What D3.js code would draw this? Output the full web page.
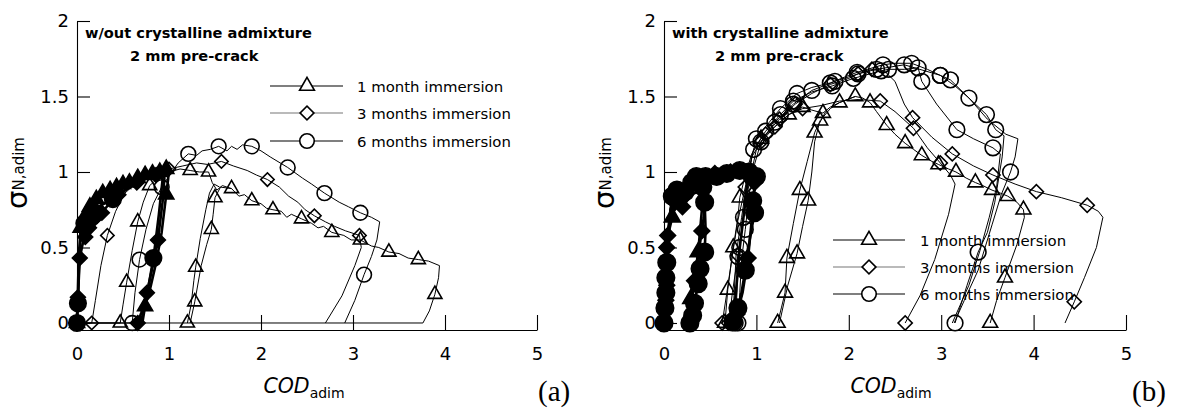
<!DOCTYPE html>
<html><head><meta charset="utf-8">
<script src="https://cdn.jsdelivr.net/npm/d3@7"></script>
<style>body{margin:0;background:#fff} svg{display:block}</style>
</head><body>
<svg id="c" width="1177" height="410"></svg>
<script>
// ---------- DATA ----------
const xTicks = [0, 1, 2, 3, 4, 5];
const yTicks = [0, 0.5, 1, 1.5, 2];
const legendLabels = ["1 month immersion", "3 months immersion", "6 months immersion"];
const titleA = ["w/out crystalline admixture", "2 mm pre-crack"];
const titleB = ["with crystalline admixture", "2 mm pre-crack"];

// each point: [COD_adim, sigma_N,adim, marker?]
// panel (a) pre-crack (filled)
const aFillTri = [[0,0,1],[0.01,0.22,0],[0.02,0.45,0],[0.04,0.63,1],[0.09,0.71,1],[0.14,0.77,1],[0.21,0.82,1],[0.28,0.86,1],[0.36,0.88,1],[0.43,0.9,1],[0.5,0.92,1],[0.57,0.93,1],[0.66,0.96,1],[0.74,0.98,1],[0.82,0.99,1],[0.9,1.0,1],[0.97,1.02,1],[1.0,1.02,0],[0.99,0.95,0],[0.97,0.85,1],[0.92,0.6,0],[0.86,0.4,0],[0.8,0.24,0],[0.74,0.11,1],[0.71,0.0,0]];
const aFillDia = [[0,0,1],[0.005,0.08,0],[0.01,0.17,1],[0.02,0.3,0],[0.03,0.43,1],[0.06,0.52,0],[0.09,0.57,1],[0.13,0.63,1],[0.17,0.68,1],[0.22,0.71,1],[0.27,0.73,1],[0.35,0.79,0],[0.45,0.85,1],[0.55,0.89,0],[0.65,0.93,1],[0.75,0.96,0],[0.86,0.98,1],[0.93,0.99,0],[0.95,0.96,0],[0.93,0.8,0],[0.88,0.55,1],[0.82,0.37,0],[0.76,0.2,1],[0.7,0.07,0],[0.66,0.0,1]];
const aFillCir = [[0,0,1],[0,0.06,0],[0.01,0.13,1],[0.02,0.35,0],[0.04,0.57,0],[0.08,0.66,1],[0.17,0.74,1],[0.26,0.78,0],[0.39,0.82,1],[0.5,0.87,0],[0.6,0.91,0],[0.7,0.94,0],[0.8,0.97,0],[0.9,0.99,0],[0.93,0.95,0],[0.89,0.72,0],[0.85,0.52,0],[0.83,0.43,1],[0.78,0.25,0],[0.73,0.09,0],[0.69,0.0,0]];
// panel (a) after immersion (open)
const aTri1 = [[0,0,0],[0.47,0,1],[0.5,0.12,0],[0.54,0.27,1],[0.6,0.48,0],[0.66,0.67,1],[0.72,0.8,0],[0.79,0.91,1],[0.9,0.97,0],[1.0,1.0,0],[1.12,1.02,0],[1.23,1.01,1],[1.33,1.0,0],[1.43,1.0,1],[1.47,0.93,0],[1.52,0.88,0],[1.58,0.91,0],[1.68,0.89,1],[1.76,0.84,0],[1.82,0.85,0],[1.9,0.81,1],[2.0,0.79,0],[2.06,0.76,0],[2.13,0.75,1],[2.22,0.74,0],[2.28,0.7,0],[2.33,0.72,0],[2.44,0.69,1],[2.55,0.66,0],[2.62,0.63,0],[2.68,0.64,0],[2.77,0.6,1],[2.9,0.58,0],[2.98,0.55,0],[3.08,0.55,1],[3.2,0.51,0],[3.28,0.5,0],[3.39,0.47,1],[3.5,0.46,0],[3.6,0.43,0],[3.71,0.42,1],[3.82,0.41,0],[3.94,0.38,0],[3.93,0.3,0],[3.89,0.19,1],[3.83,0.08,0],[3.76,0,0],[0,0,0]];
const aTri2 = [[1.2,0,1],[1.24,0.12,0],[1.27,0.28,0],[1.29,0.37,1],[1.34,0.56,0],[1.4,0.75,0],[1.44,0.86,0],[1.49,0.92,0],[1.55,0.9,0]];
const aTri3 = [[1.23,0,0],[1.28,0.14,1],[1.35,0.38,0],[1.41,0.52,0],[1.46,0.62,1],[1.48,0.72,0],[1.5,0.83,1],[1.56,0.9,0],[1.68,0.89,0]];
const aDia = [[0,0,0],[0.16,0,1],[0.2,0.15,0],[0.26,0.38,0],[0.33,0.58,1],[0.42,0.74,0],[0.52,0.86,0],[0.65,0.93,0],[0.8,0.97,0],[1.0,1.02,1],[1.15,1.04,0],[1.3,1.06,0],[1.42,1.05,0],[1.57,1.07,1],[1.7,1.04,0],[1.85,1.01,0],[1.95,0.98,0],[2.07,0.95,1],[2.2,0.9,0],[2.3,0.84,0],[2.4,0.8,0],[2.48,0.75,0],[2.58,0.71,1],[2.7,0.67,0],[2.8,0.64,0],[2.92,0.61,0],[3.07,0.58,1],[3.09,0.5,0],[3.02,0.38,0],[2.88,0.18,0],[2.7,0,0]];
const aCir = [[0,0,0],[0.6,0,1],[0.63,0.2,0],[0.68,0.42,1],[0.75,0.62,0],[0.83,0.79,0],[0.92,0.9,1],[1.02,0.99,0],[1.1,1.06,0],[1.21,1.12,1],[1.3,1.11,0],[1.36,1.14,0],[1.45,1.15,0],[1.54,1.17,1],[1.63,1.14,0],[1.68,1.17,0],[1.74,1.15,0],[1.8,1.18,0],[1.9,1.17,1],[2.0,1.14,0],[2.1,1.1,0],[2.29,1.03,1],[2.45,0.96,0],[2.55,0.92,0],[2.69,0.86,1],[2.85,0.8,0],[2.95,0.77,0],[3.08,0.73,1],[3.2,0.7,0],[3.29,0.67,0],[3.26,0.55,0],[3.2,0.44,0],[3.12,0.32,1],[3.02,0.15,0],[2.91,0,0]];

// panel (b) pre-crack (filled)
const bFillCirA = [[0,0,1],[0.01,0.1,1],[0.02,0.2,1],[0.02,0.3,1],[0.03,0.4,1],[0.04,0.55,0],[0.06,0.7,0],[0.09,0.84,1],[0.14,0.88,1],[0.23,0.87,1],[0.3,0.93,1],[0.35,0.97,1],[0.42,0.9,1],[0.44,0.8,1],[0.45,0.62,0],[0.44,0.47,1],[0.39,0.36,1],[0.37,0.26,1],[0.33,0.13,1],[0.31,0.05,1],[0.28,0,1]];
const bFillTriA = [[0,0,0],[0.02,0.3,0],[0.05,0.6,0],[0.09,0.7,1],[0.14,0.82,0],[0.25,0.88,0],[0.35,0.92,0],[0.42,0.88,0],[0.41,0.75,0],[0.37,0.47,1],[0.33,0.3,0],[0.29,0.16,1],[0.28,0.1,0],[0.26,0,0]];
const bFillDiaA = [[0,0,1],[0.02,0.15,1],[0.03,0.25,1],[0.03,0.38,0],[0.03,0.5,1],[0.04,0.58,1],[0.07,0.7,0],[0.12,0.8,1],[0.2,0.77,1],[0.3,0.85,0],[0.4,0.88,0],[0.45,0.85,0],[0.43,0.7,0],[0.41,0.61,1],[0.37,0.45,0],[0.33,0.28,1],[0.29,0.1,0],[0.27,0,0]];
const bFillCirB = [[0,0,0],[0.02,0.25,0],[0.04,0.55,0],[0.08,0.78,0],[0.14,0.88,0],[0.25,0.92,0],[0.35,0.96,0],[0.45,0.97,1],[0.57,0.97,1],[0.68,0.99,1],[0.82,1.01,1],[0.92,1.0,1],[1.0,0.97,1],[0.98,0.88,0],[0.96,0.81,1],[0.98,0.73,1],[0.93,0.56,0],[0.88,0.35,1],[0.83,0.17,0],[0.8,0.1,1],[0.75,0.01,1]];
const bFillDiaB = [[0,0,0],[0.03,0.45,0],[0.08,0.78,0],[0.2,0.9,0],[0.4,0.96,1],[0.55,0.99,1],[0.72,1.0,1],[0.9,0.99,1],[0.98,0.93,1],[0.96,0.75,0],[0.91,0.43,1],[0.85,0.2,0],[0.79,0.06,1],[0.74,0,0]];
const bFillTriB = [[0,0,0],[0.03,0.5,0],[0.07,0.75,0],[0.2,0.88,0],[0.45,0.95,0],[0.7,0.98,0],[0.85,0.98,0],[0.9,0.92,0],[0.87,0.75,0],[0.82,0.5,0],[0.8,0.35,0],[0.77,0.15,0],[0.73,0,1]];
// panel (b) after immersion (open)
const bTri1 = [[0.66,0,1],[0.69,0.22,1],[0.75,0.5,1],[0.8,0.7,0],[0.82,0.83,1],[0.88,0.98,0],[0.95,1.12,0],[1.05,1.22,1],[1.2,1.3,0],[1.35,1.38,1],[1.5,1.43,1],[1.6,1.41,0],[1.72,1.39,1],[1.8,1.43,0],[1.9,1.46,1],[2.07,1.5,1],[2.15,1.49,0],[2.23,1.46,1],[2.3,1.4,0],[2.41,1.31,1],[2.5,1.25,0],[2.61,1.19,1],[2.7,1.15,0],[2.79,1.11,1],[2.9,1.07,0],[2.97,1.05,1],[3.08,1.02,0],[3.16,1.0,1],[3.27,0.96,0],[3.37,0.93,1],[3.45,0.91,0],[3.55,0.88,1],[3.64,0.86,0],[3.72,0.84,1],[3.82,0.8,0],[3.89,0.75,1],[3.9,0.7,0],[3.82,0.52,0],[3.69,0.3,1],[3.6,0.15,0],[3.53,0,1]];
const bTri2 = [[1.23,0,1],[1.27,0.1,0],[1.31,0.2,1],[1.33,0.43,1],[1.4,0.66,0],[1.47,0.88,1],[1.55,1.07,0],[1.63,1.26,1],[1.69,1.34,1],[1.8,1.42,0],[1.9,1.46,0],[2.07,1.5,0]];
const bTri3 = [[1.25,0,0],[1.34,0.25,0],[1.44,0.46,1],[1.5,0.64,0],[1.56,0.81,1],[1.6,1.0,0],[1.63,1.2,0],[1.68,1.32,0],[1.75,1.4,0]];
const bDiaLow = [[0.63,0,1],[0.68,0.2,0],[0.74,0.45,0],[0.8,0.68,0],[0.88,0.9,1],[0.95,1.1,0],[1.05,1.2,1],[1.2,1.3,1],[1.35,1.38,0],[1.5,1.42,1],[1.7,1.44,0],[1.9,1.47,0],[2.1,1.48,0],[2.34,1.47,1],[2.5,1.4,0],[2.7,1.29,1],[2.85,1.16,0],[2.99,1.06,1],[3.1,0.98,0],[3.15,0.92,0],[3.08,0.72,0],[2.93,0.42,0],[2.77,0.18,0],[2.61,0,1]];
const bDiaHigh = [[0.7,0,1],[0.74,0.2,0],[0.8,0.45,1],[0.86,0.7,0],[0.92,0.92,0],[1.0,1.15,0],[1.1,1.25,1],[1.25,1.35,1],[1.42,1.45,1],[1.6,1.52,0],[1.8,1.58,1],[2.0,1.62,0],[2.1,1.65,1],[2.25,1.68,1],[2.4,1.66,0],[2.5,1.6,0],[2.6,1.45,0],[2.69,1.36,1],[2.9,1.23,0],[3.12,1.12,1],[3.35,1.04,0],[3.56,0.98,1],[3.8,0.92,0],[4.03,0.87,1],[4.3,0.83,0],[4.58,0.78,1],[4.7,0.74,0],[4.75,0.7,0],[4.68,0.5,0],[4.55,0.3,0],[4.44,0.14,1],[4.34,0,0]];
const bCirA = [[0.77,0,1],[0.79,0.2,0],[0.8,0.44,1],[0.82,0.5,1],[0.86,0.7,1],[0.9,0.9,0],[0.95,1.1,0],[1.0,1.22,1],[1.1,1.3,0],[1.26,1.42,1],[1.44,1.52,1],[1.6,1.56,0],[1.8,1.59,1],[2.0,1.64,0],[2.09,1.66,1],[2.37,1.71,1],[2.5,1.72,0],[2.68,1.72,1],[2.85,1.68,0],[2.99,1.64,1],[3.15,1.57,0],[3.3,1.49,1],[3.49,1.38,1],[3.59,1.28,1],[3.68,1.24,0],[3.66,1.1,0],[3.58,0.8,0],[3.5,0.6,0],[3.4,0.47,1],[3.28,0.25,0],[3.15,0,1]];
const bCirB = [[0.74,0,1],[0.76,0.2,0],[0.78,0.45,0],[0.84,0.7,0],[0.9,0.95,0],[0.97,1.15,1],[1.1,1.27,1],[1.26,1.38,1],[1.4,1.47,1],[1.6,1.53,0],[1.82,1.57,1],[2.05,1.62,1],[2.35,1.67,1],[2.43,1.68,1],[2.6,1.68,0],[2.75,1.69,1],[2.79,1.6,1],[2.95,1.45,0],[3.17,1.28,1],[3.35,1.22,0],[3.56,1.16,1],[3.64,1.12,0],[3.6,0.9,0],[3.52,0.7,0],[3.42,0.48,0],[3.3,0.25,0],[3.12,0,0]];
const bCirC = [[0.8,0,1],[0.82,0.2,0],[0.84,0.42,0],[0.88,0.62,1],[0.92,0.85,0],[0.98,1.05,0],[1.05,1.2,1],[1.2,1.33,1],[1.4,1.45,1],[1.6,1.54,1],[1.85,1.6,1],[2.1,1.65,1],[2.3,1.68,1],[2.6,1.71,1],[2.99,1.64,1],[3.1,1.61,1],[3.3,1.49,0],[3.5,1.35,0],[3.7,1.25,0],[3.83,1.22,0],[3.8,1.1,0],[3.75,1.0,1],[3.65,0.85,0],[3.55,0.65,0],[3.4,0.35,0],[3.25,0.15,0],[3.14,0,0]];

// ---------- SERIES TABLE ----------
const seriesA = [
  {d: aFillCir, s: 'cir', f: true}, {d: aFillDia, s: 'dia', f: true}, {d: aFillTri, s: 'tri', f: true},
  {d: aDia, s: 'dia', f: false}, {d: aCir, s: 'cir', f: false},
  {d: aTri1, s: 'tri', f: false}, {d: aTri2, s: 'tri', f: false}, {d: aTri3, s: 'tri', f: false}
];
const seriesB = [
  {d: bFillCirB, s: 'cir', f: true}, {d: bFillDiaB, s: 'dia', f: true}, {d: bFillTriB, s: 'tri', f: true},
  {d: bFillCirA, s: 'cir', f: true}, {d: bFillDiaA, s: 'dia', f: true}, {d: bFillTriA, s: 'tri', f: true},
  {d: bDiaLow, s: 'dia', f: false}, {d: bDiaHigh, s: 'dia', f: false},
  {d: bCirA, s: 'cir', f: false}, {d: bCirB, s: 'cir', f: false}, {d: bCirC, s: 'cir', f: false},
  {d: bTri1, s: 'tri', f: false}, {d: bTri2, s: 'tri', f: false}, {d: bTri3, s: 'tri', f: false}
];
const legendSyms = ['tri', 'dia', 'cir'];

// ---------- LAYOUT ----------
const panels = [
  {series: seriesA, title: titleA, x0: 77, x1: 537, t1x: 85, t2x: 130, legX0: 270, legX1: 343, legM: 307, legT: 357,
   legY: [86, 113, 141], ylab: 27, tag: '(a)', tagX: 538, xlabC: 304, sz: 1.0},
  {series: seriesB, title: titleB, x0: 664, x1: 1126, t1x: 672, t2x: 715, legX0: 833, legX1: 905, legM: 869, legT: 920,
   legY: [240, 267, 294], ylab: 614, tag: '(b)', tagX: 1132, xlabC: 891, sz: 1.12}
];

const svg = d3.select('#c');
const y = d3.scaleLinear().domain([-0.0464, 2]).range([330, 21]);
const FONT = "'DejaVu Sans', Verdana, sans-serif";

function symPath(s, size) {
  const t = s === 'tri' ? d3.symbolTriangle : s === 'dia' ? d3.symbolSquare : d3.symbolCircle;
  return d3.symbol().type(t).size(size)();
}
function baseSize(s, filled, k) {
  const b = s === 'tri' ? (filled ? 100 : 86) : s === 'dia' ? (filled ? 110 : 90) : (filled ? 215 : 172);
  return b * k;
}

panels.forEach(p => {
  const x = d3.scaleLinear().domain([0, 5]).range([p.x0, p.x1]);
  const g = svg.append('g');

  // axes
  const ya = g.append('g').attr('transform', `translate(${p.x0},0)`)
    .call(d3.axisLeft(y).tickValues(yTicks).tickSize(-13).tickSizeOuter(0).tickPadding(8).tickFormat(d => String(d)));
  const xa = g.append('g').attr('transform', `translate(0,330)`)
    .call(d3.axisBottom(x).tickValues(xTicks).tickSize(-15).tickSizeOuter(0).tickPadding(17).tickFormat(d => String(d)));
  [ya, xa].forEach(a => {
    a.selectAll('path,line').attr('stroke', '#000').attr('stroke-width', 1.1);
    a.selectAll('text').attr('font-family', FONT).attr('font-size', 18).attr('fill', '#000');
  });

  // curves
  const line = d3.line().x(d => x(d[0])).y(d => y(d[1]));
  p.series.forEach(sr => {
    g.append('path').attr('d', line(sr.d)).attr('fill', 'none').attr('stroke', '#000')
      .attr('stroke-width', sr.f ? 2.6 : 1).attr('stroke-linejoin', 'round');
    const size = baseSize(sr.s, sr.f, p.sz);
    g.selectAll(null).data(sr.d.filter(d => d[2] === 1)).enter().append('path')
      .attr('d', symPath(sr.s, size))
      .attr('transform', d => `translate(${x(d[0])},${y(d[1])})` + (sr.s === 'dia' ? ' rotate(45)' : ''))
      .attr('fill', sr.f ? '#000' : 'none')
      .attr('stroke', '#000').attr('stroke-width', 1.6);
  });

  // titles
  g.append('text').attr('x', p.t1x).attr('y', 38).text(p.title[0])
    .attr('font-family', FONT).attr('font-weight', 'bold').attr('font-size', 14.6);
  g.append('text').attr('x', p.t2x).attr('y', 61).text(p.title[1])
    .attr('font-family', FONT).attr('font-weight', 'bold').attr('font-size', 14.6);

  // legend
  legendLabels.forEach((lab, i) => {
    const ly = p.legY[i];
    g.append('line').attr('x1', p.legX0).attr('x2', p.legX1).attr('y1', ly).attr('y2', ly)
      .attr('stroke', i === 1 ? '#777' : '#000').attr('stroke-width', 1.1);
    const s = legendSyms[i];
    const size = s === 'tri' ? 95 : s === 'dia' ? 95 : 165;
    g.append('path').attr('d', symPath(s, size))
      .attr('transform', `translate(${p.legM},${ly})` + (s === 'dia' ? ' rotate(45)' : ''))
      .attr('fill', '#fff').attr('stroke', '#000').attr('stroke-width', 1.6);
    g.append('text').attr('x', p.legT).attr('y', ly + 6).text(lab)
      .attr('font-family', FONT).attr('font-size', 14.9);
  });

  // axis titles
  const xt = g.append('text').attr('x', p.xlabC).attr('y', 393).attr('text-anchor', 'middle')
    .attr('font-family', FONT).attr('fill', '#000');
  xt.append('tspan').text('COD').attr('font-size', 20.5).attr('font-style', 'italic');
  xt.append('tspan').text('adim').attr('font-size', 14).attr('dy', 5);

  const yt = g.append('text').attr('transform', `translate(${p.ylab},173) rotate(-90)`)
    .attr('text-anchor', 'middle').attr('font-family', FONT).attr('fill', '#000');
  yt.append('tspan').text('σ').attr('font-size', 29);
  yt.append('tspan').text('N,adim').attr('font-size', 15).attr('dy', -3);

  g.append('text').attr('x', p.tagX).attr('y', 401).text(p.tag)
    .attr('font-family', "'Liberation Serif', 'Times New Roman', serif").attr('font-size', 29);
});
</script>
</body></html>
